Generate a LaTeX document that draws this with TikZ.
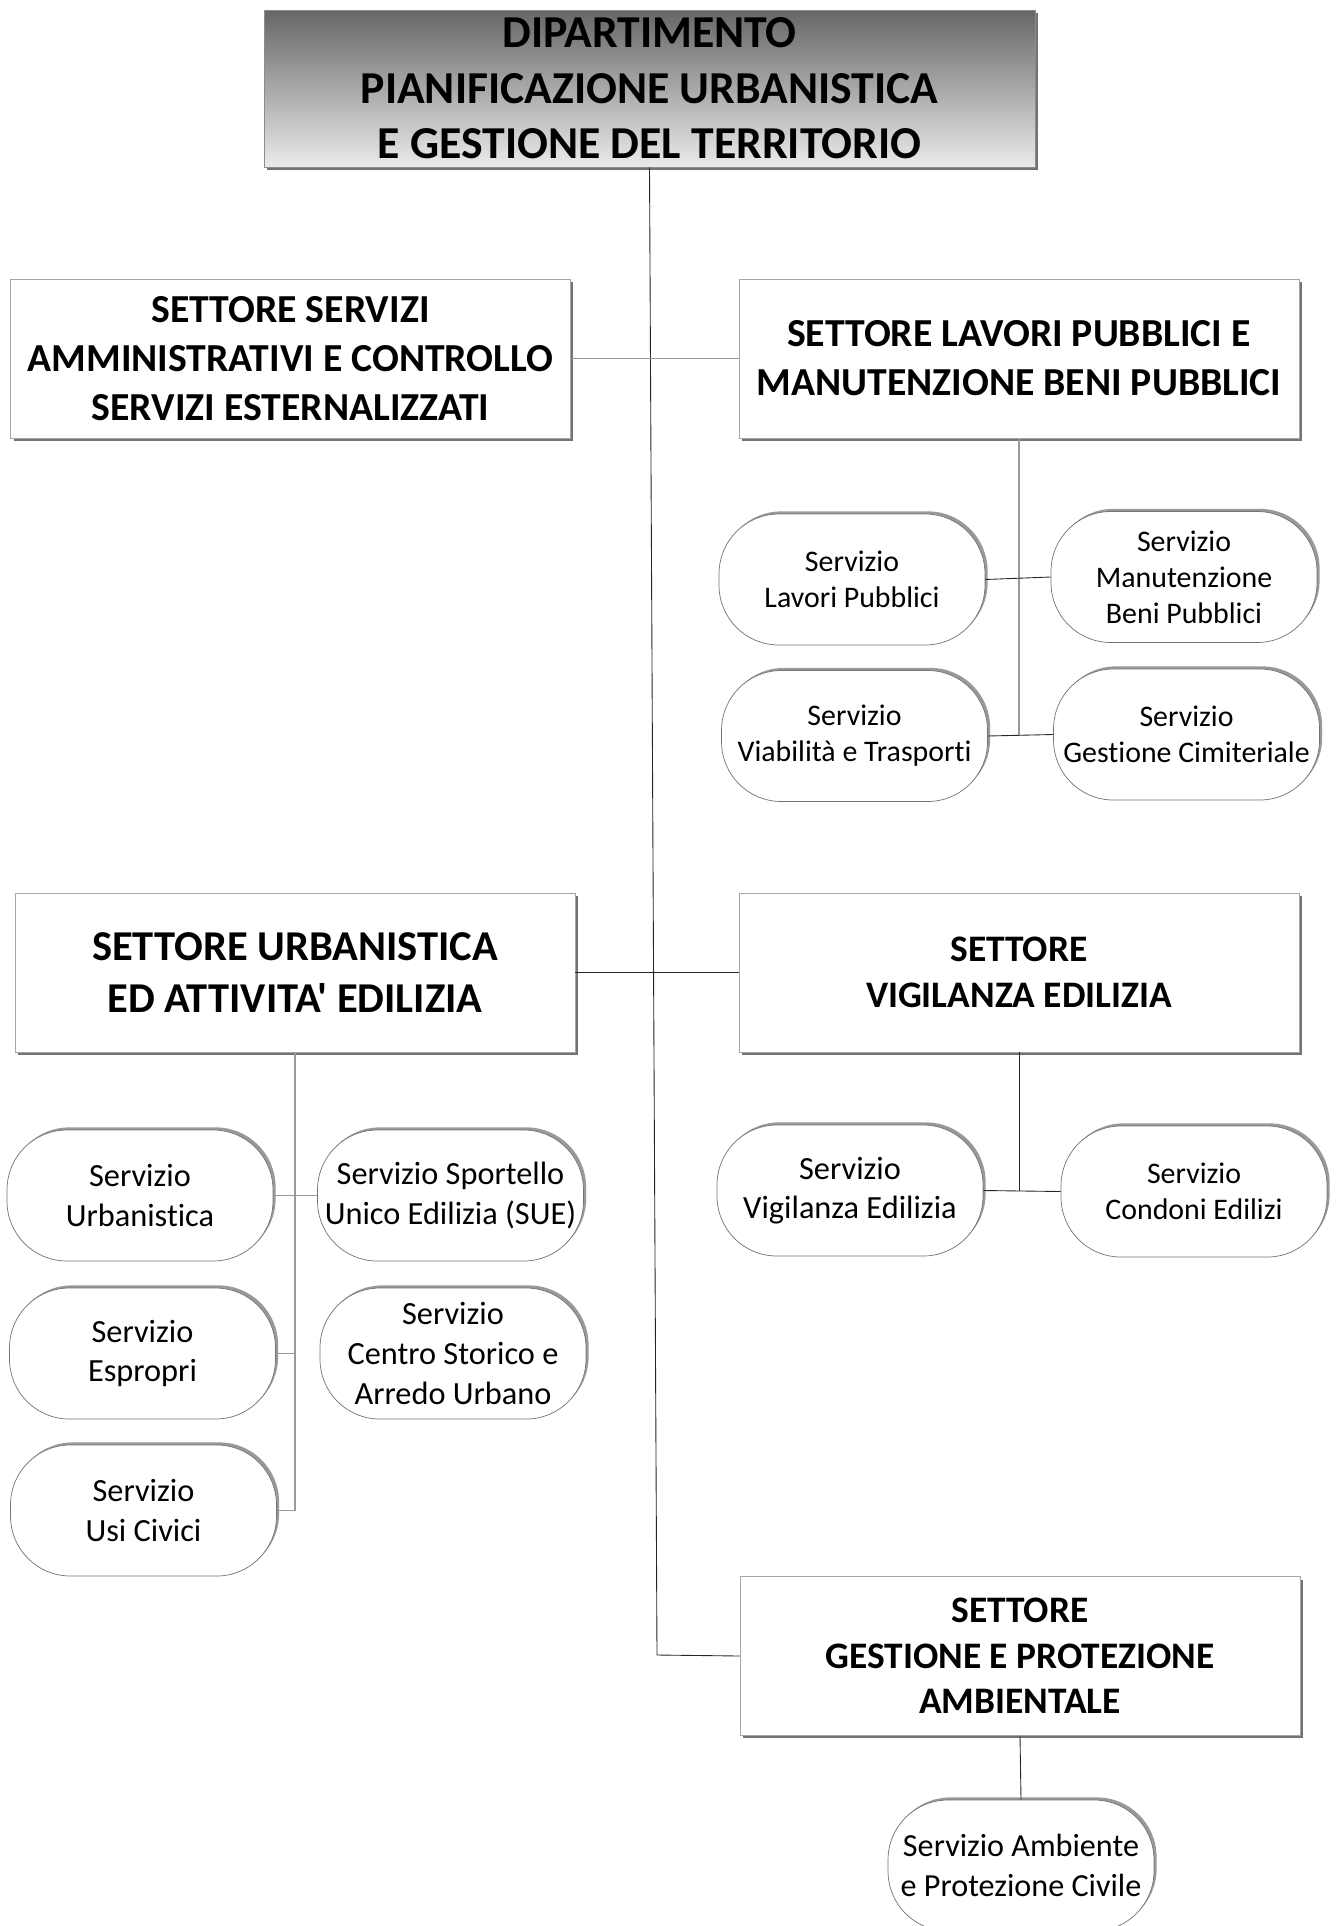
\documentclass[tikz,border=0pt]{standalone}
\usepackage{fontspec}
\setmainfont{Carlito}[Ligatures={NoCommon,TeXOff}]
\usetikzlibrary{shadows}

\begin{document}
\begin{tikzpicture}[
  x=0.02cm, y=-0.02cm,
  dept/.style={
    rectangle,
    draw=black!45,
    top color=black!60,
    bottom color=black!8,
    minimum width=15.42cm,
    minimum height=3.14cm,
    font=\fontsize{26}{31.5}\selectfont\bfseries,
    align=center,
    general shadow={fill=black!55, shadow xshift=1.7pt, shadow yshift=-1.7pt}
  },
  settore/.style={
    rectangle,
    draw=black!35,
    fill=white,
    minimum width=11.2cm,
    minimum height=3.18cm,
    font=\fontsize{22.6}{28}\selectfont\bfseries,
    align=center,
    general shadow={fill=black!55, shadow xshift=1.7pt, shadow yshift=-1.7pt}
  },
  servizio/.style={
    rectangle,
    rounded corners=34pt,
    draw=black!55,
    fill=white,
    minimum width=5.32cm,
    minimum height=2.62cm,
    font=\fontsize{17}{20.5}\selectfont,
    align=center,
    general shadow={fill=black!40, shadow xshift=1.5pt, shadow yshift=1.5pt}
  },
  link/.style={
    draw=black!85,
    line width=0.5pt
  },
  softlink/.style={
    draw=black!40,
    line width=0.6pt
  }
]
\useasboundingbox (0,0) rectangle (1342,1926);

% Dipartimento
\node[dept] (dip) at (649.5,88.5) {DIPARTIMENTO\\PIANIFICAZIONE URBANISTICA\\E GESTIONE DEL TERRITORIO};

% Settori
\node[settore] (amm) at (290.5,358.5) {SETTORE SERVIZI\\AMMINISTRATIVI E CONTROLLO\\SERVIZI ESTERNALIZZATI};
\node[settore] (lav) at (1019,358.5) {SETTORE LAVORI PUBBLICI E\\MANUTENZIONE BENI PUBBLICI};
\node[settore, font=\fontsize{24.2}{29.5}\selectfont\bfseries] (urb) at (295,972.5) {SETTORE URBANISTICA\\ED ATTIVITA' EDILIZIA};
\node[settore, font=\fontsize{21.3}{26}\selectfont\bfseries] (vig) at (1019,972.5) {SETTORE\\VIGILANZA EDILIZIA};
\node[settore, font=\fontsize{21.3}{26}\selectfont\bfseries] (amb) at (1020,1656) {SETTORE\\GESTIONE E PROTEZIONE\\AMBIENTALE};

% Servizi lavori pubblici
\node[servizio] (slp) at (852,579.5) {Servizio\\Lavori Pubblici};
\node[servizio] (smb) at (1184,577) {Servizio\\Manutenzione\\Beni Pubblici};
\node[servizio] (svt) at (854.5,736) {Servizio\\Viabilità e Trasporti};
\node[servizio] (sgc) at (1186.5,734.5) {Servizio\\Gestione Cimiteriale};

% Servizi urbanistica
\node[servizio, font=\fontsize{18.4}{22.5}\selectfont] (surb) at (140,1195.5) {Servizio\\Urbanistica};
\node[servizio, font=\fontsize{18.4}{22.5}\selectfont] (ssue) at (450.5,1195.5) {Servizio Sportello\\Unico Edilizia (SUE)};
\node[servizio, font=\fontsize{18.4}{22.5}\selectfont] (sesp) at (142.5,1353.5) {Servizio\\Espropri};
\node[servizio, font=\fontsize{18.4}{22.5}\selectfont] (scs) at (453,1353.5) {Servizio\\Centro Storico e\\Arredo Urbano};
\node[servizio, font=\fontsize{18.4}{22.5}\selectfont] (susi) at (143.5,1510.5) {Servizio\\Usi Civici};

% Servizi vigilanza e ambiente
\node[servizio, font=\fontsize{18.4}{22.5}\selectfont] (svig) at (850,1190.5) {Servizio\\Vigilanza Edilizia};
\node[servizio] (scon) at (1194,1191.5) {Servizio\\Condoni Edilizi};
\node[servizio, font=\fontsize{18.3}{22.5}\selectfont] (samb) at (1021,1865.5) {Servizio Ambiente\\e Protezione Civile};

% Connections
\coordinate (trunk) at (657,1655);
\draw[link] (dip.south) -- (trunk) -- (amb.west);
\draw[softlink] (amm.east) -- (lav.west);
\draw[link] (urb.east) -- (vig.west);

\draw[softlink] (lav.south) -- (lav.south |- svt.east);
\draw[link] (slp.east) -- (smb.west);
\draw[link] (svt.east) -- (sgc.west);

\draw[softlink] (urb.south) -- (urb.south |- susi.east);
\draw[softlink] (surb.east) -- (ssue.west);
\draw[softlink] (sesp.east) -- (sesp.east -| urb.south);
\draw[softlink] (susi.east) -- (susi.east -| urb.south);

\draw[link] (vig.south) -- (vig.south |- svig.east);
\draw[link] (svig.east) -- (scon.west);

\draw[link] (amb.south) -- (samb.north);
\end{tikzpicture}
\end{document}
